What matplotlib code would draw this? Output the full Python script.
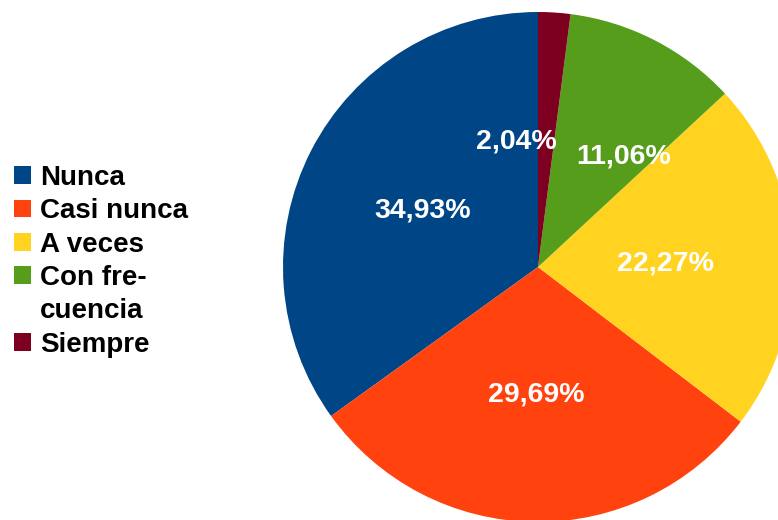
import matplotlib.pyplot as plt
from matplotlib.patches import Patch

categorias = ["Nunca", "Casi nunca", "A veces", "Con fre-\ncuencia", "Siempre"]
porcentajes = [34.93, 29.69, 22.27, 11.06, 2.04]
colores = ["#004586", "#ff420e", "#ffd320", "#579d1c", "#7e0021"]

plt.rcParams['font.family'] = ['Liberation Sans', 'DejaVu Sans']

fig = plt.figure(figsize=(7.78, 5.20), dpi=100)
# pie centred at about (538, 267) px with radius 255 px
ax = fig.add_axes([283 / 778, -2 / 520, 510 / 778, 510 / 520])

wedges, textos, pcts = ax.pie(
    porcentajes, colors=colores, startangle=90, counterclock=True,
    autopct=lambda p: f"{p:.2f}%".replace(".", ","), pctdistance=0.5,
    wedgeprops=dict(linewidth=0), radius=1,
)
for t in pcts:
    t.set_color("white")
    t.set_fontweight("bold")
    t.set_fontsize(20.5)

# small slices: labels pushed apart like the original
pcts[4].set_position((-0.086, 0.494))
pcts[3].set_position((0.337, 0.435))
pcts[0].set_position((-0.451, 0.22))
pcts[2].set_position((0.499, 0.015))

ax.set_xlim(-1, 1)
ax.set_ylim(-1, 1)
ax.set_aspect("equal")
ax.axis("off")

# wrapped labels: one legend row per line, square only on the first line
handles, labels = [], []
for w, cat in zip(wedges, categorias):
    for i, linea in enumerate(cat.split("\n")):
        handles.append(w if i == 0 else Patch(facecolor="none", edgecolor="none"))
        labels.append(linea)

leg = fig.legend(
    handles, labels, loc="upper left", bbox_to_anchor=(14 / 778, 1 - 165 / 520),
    frameon=False, borderpad=0, borderaxespad=0, handlelength=0.6, handleheight=0.6,
    handletextpad=0.33, labelspacing=0.265,
    prop=dict(family="Liberation Sans", weight="bold", size=20),
)

fig.savefig("out.png", dpi=100)
